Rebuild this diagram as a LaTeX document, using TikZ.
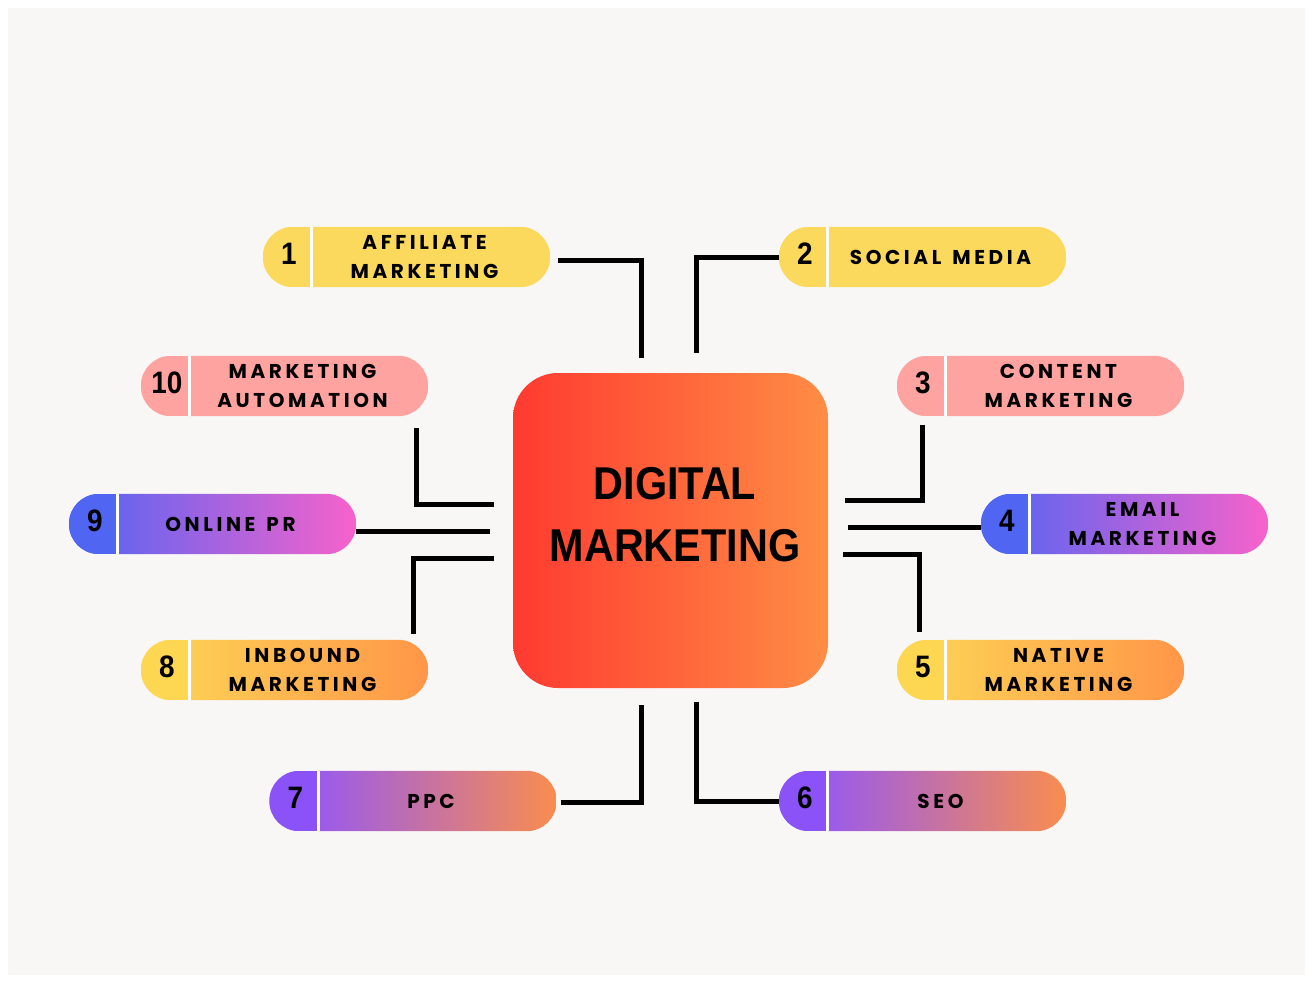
\documentclass[tikz,border=0pt]{standalone}
\usepackage{fontspec}
\setmainfont{Poppins}
\newfontfamily\pillfont{Poppins}[LetterSpace=18, WordSpace=1.4]
\newfontfamily\hubfont{Liberation Sans}[FakeStretch=0.9]
\usetikzlibrary{positioning}

\definecolor{bgc}{HTML}{F9F7F6}
\definecolor{hubL}{HTML}{FF3A30}
\definecolor{hubR}{HTML}{FF8D45}
\definecolor{yel}{HTML}{FBD95C}
\definecolor{pnk}{HTML}{FFA3A0}
\definecolor{bluA}{HTML}{5066F2}
\definecolor{bluB}{HTML}{6B64EE}
\definecolor{bluC}{HTML}{F762CB}
\definecolor{yoA}{HTML}{FDD752}
\definecolor{yoB}{HTML}{FDCD54}
\definecolor{yoC}{HTML}{FF9648}
\definecolor{poA}{HTML}{8A52F7}
\definecolor{poB}{HTML}{9B5BEA}
\definecolor{poC}{HTML}{F98D4E}

\tikzset{
  pill/.style={minimum width=287pt, minimum height=60pt, inner sep=0pt},
  hub/.style={minimum size=315pt, rounded corners=45pt, inner sep=0pt,
    left color=hubL, right color=hubR},
  num/.style={font=\hubfont\bfseries\fontsize{31}{31}\selectfont},
  lbl/.style={align=center, font=\pillfont\bfseries\fontsize{20}{29}\selectfont},
  link/.style={line width=5pt}
}

% pill filling: frame node, number colour, gradient start, gradient end
\newcommand{\pillfill}[4]{%
  \begin{scope}
    \clip[rounded corners=30pt] (#1.south west) rectangle (#1.north east);
    \shade[left color=#3, right color=#4] ([xshift=49pt]#1.south west) rectangle (#1.north east);
    \fill[#2] (#1.south west) rectangle ([xshift=49pt]#1.north west);
  \end{scope}
  \draw[white, line width=3pt] ([xshift=49pt]#1.south west) -- ([xshift=49pt]#1.north west);
}

\begin{document}
\begin{tikzpicture}[x=1pt, y=-1pt]
  \fill[white] (0,0) rectangle (1312,982);
  \fill[bgc] (8,8) rectangle (1305,975);

  \node[hub] (HUB) at (670.5,530.5) {};
  \node[font=\hubfont\bfseries\fontsize{46}{62}\selectfont, align=center]
    (HUBTXT) at (675,515) {DIGITAL\\MARKETING};

  % pill frames
  \node[pill] (P1) at (406.5,257) {};
  \node[pill] (P2) at (922.5,257) {};
  \node[pill] (P10) at (284.5,386) {};
  \node[pill] (P3) at (1040.5,386) {};
  \node[pill] (P9) at (212.5,524) {};
  \node[pill] (P4) at (1124.5,524) {};
  \node[pill] (P8) at (284.5,670) {};
  \node[pill] (P5) at (1040.5,670) {};
  \node[pill] (P7) at (413,801) {};
  \node[pill] (P6) at (922.5,801) {};

  \pillfill{P1}{yel}{yel}{yel}
  \pillfill{P2}{yel}{yel}{yel}
  \pillfill{P10}{pnk}{pnk}{pnk}
  \pillfill{P3}{pnk}{pnk}{pnk}
  \pillfill{P9}{bluA}{bluB}{bluC}
  \pillfill{P4}{bluA}{bluB}{bluC}
  \pillfill{P8}{yoA}{yoB}{yoC}
  \pillfill{P5}{yoA}{yoB}{yoC}
  \pillfill{P7}{poA}{poB}{poC}
  \pillfill{P6}{poA}{poB}{poC}

  % numbers and labels
  \foreach \p/\n/\t in {P1/1/{AFFILIATE\\MARKETING}, P2/2/{SOCIAL MEDIA},
      P3/3/{CONTENT\\MARKETING}, P4/4/{EMAIL\\MARKETING},
      P5/5/{NATIVE\\MARKETING}, P6/6/SEO, P7/7/PPC,
      P8/8/{INBOUND\\MARKETING}, P9/9/{ONLINE PR},
      P10/10/{MARKETING\\AUTOMATION}} {
    \node[num] (N\n) at ([xshift=26pt,yshift=3pt]\p.west) {\n};
    \node[lbl] (L\n) at ([xshift=18pt]\p.center) {\t};
  }

  % connector ends at the hub
  \coordinate (C1) at (641,358);
  \coordinate (C2) at (696,353);
  \coordinate (C10) at (494,504);
  \coordinate (C9) at (490,531);
  \coordinate (C8) at (494,558);
  \coordinate (C3) at (845,500);
  \coordinate (C4) at (848,527);
  \coordinate (C5) at (843,554);
  \coordinate (C7) at (641,705);
  \coordinate (C6) at (696,702);

  \draw[link] ([shift={(8,3)}]P1.east) -| (C1);
  \draw[link] (P2.west) -| (C2);
  \draw[link] ([shift={(-12,12)}]P10.south east) |- (C10);
  \draw[link] (P9.east |- C9) -- (C9);
  \draw[link] (C8) -| ([shift={(-15,-6)}]P8.north east);
  \draw[link] ([shift={(26,9)}]P3.south west) |- (C3);
  \draw[link] (C4) -- (P4.west |- C4);
  \draw[link] (C5) -| ([shift={(23,-8)}]P5.north west);
  \draw[link] ([shift={(4,1)}]P7.east) -| (C7);
  \draw[link] (P6.west) -| (C6);
\end{tikzpicture}
\end{document}
